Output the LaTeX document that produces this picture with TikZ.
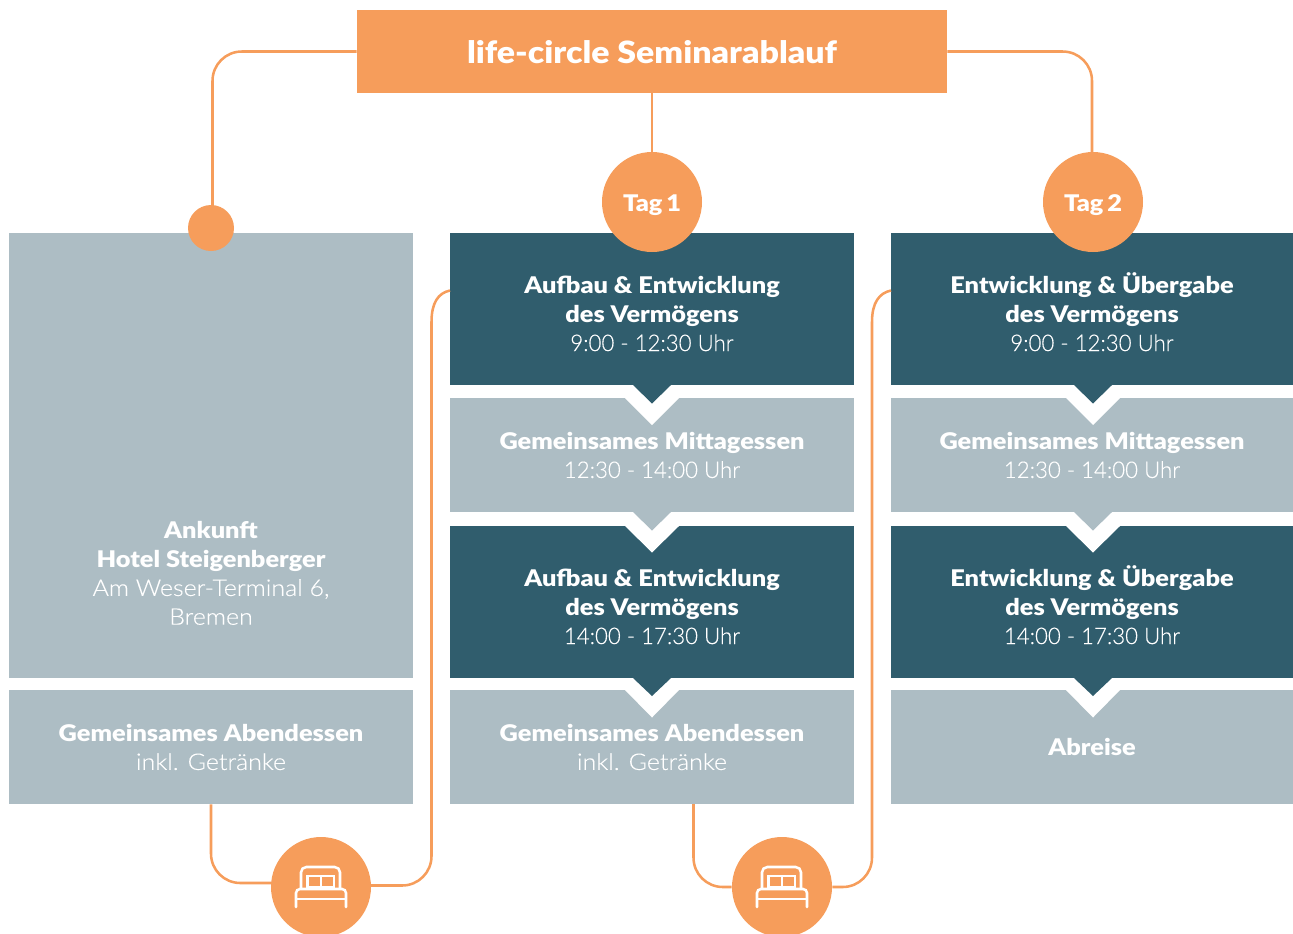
\documentclass[tikz,border=0pt]{standalone}
\usepackage{fontspec}
\setmainfont{Lato}[BoldFont={Lato Black},BoldFeatures={FakeStretch=1.105}]
\newfontfamily\thinfont{Lato Light}[FakeStretch=1.09,FakeBold=0.2]
\newfontfamily\timefont{Lato Light}[FakeStretch=0.97,FakeBold=0.2]
\newcommand{\toprule}{\rule{0pt}{20pt}}
\definecolor{orangefill}{HTML}{F69D5B}
\definecolor{darkfill}{HTML}{305D6D}
\definecolor{lightfill}{HTML}{ADBDC4}
\tikzset{
	darkbox/.style={fill=darkfill, minimum width=303pt, minimum height=114pt, inner sep=0pt, text=white, align=center, font=\fontsize{17.2}{21.6}\selectfont},
	lightbox/.style={fill=lightfill, minimum width=303pt, minimum height=85.5pt, inner sep=0pt, text=white, align=center, font=\fontsize{17.2}{21.6}\selectfont},
	headbox/.style={fill=orangefill, minimum width=442.5pt, minimum height=62.25pt, inner sep=0pt, text=white, text height=18.5pt, text depth=0pt, font=\fontsize{23}{28}\selectfont\bfseries},
	daycircle/.style={circle, fill=orangefill, minimum size=75pt, inner sep=0pt, text=white, text height=15.5pt, text depth=2pt, font=\fontsize{17.2}{21.6}\selectfont\bfseries},
	smalldot/.style={circle, fill=orangefill, minimum size=34.5pt, inner sep=0pt},
	linkline/.style={draw=orangefill, line width=1.9pt, rounded corners=22pt},
	bowline/.style={draw=orangefill, line width=1.9pt},
	bedicon/.pic={
		\draw[white, line width=1.9pt, line cap=round, rounded corners=4pt] (-20,1) -- (-20,-20) -- (19,-20) -- (19,1);
		\draw[white, line width=1.9pt, line cap=round, rounded corners=3pt] (-25,20) -- (-25,2) -- (25,2) -- (25,20);
		\draw[white, line width=1.9pt] (-25,12) -- (25,12);
		\draw[white, line width=1.7pt] (-13.5,-11) rectangle (0,0);
		\draw[white, line width=1.7pt] (0,-11) rectangle (13,0);
	}
}

\begin{document}
\begin{tikzpicture}[x=0.75pt, y=-0.75pt]

	\useasboundingbox (0,0) rectangle (1293,933);
	\clip (0,0) rectangle (1293,933);

	\node[headbox] (head) at (652,51.5) {life-circle Seminarablauf};

	% linke Spalte
	\node[lightbox, minimum height=333.75pt] (ankunft) at (211,455.5) {};
	\node[text=white, align=center, font=\fontsize{17.2}{21.6}\selectfont] (ankunfttext) at (211,573) {\textbf{Ankunft}\\\textbf{Hotel Steigenberger}\\{\thinfont Am Weser-Terminal 6,}\\{\thinfont Bremen}};
	\node[lightbox] (abendlinks) at (211,747) {\textbf{Gemeinsames Abendessen}\\{\thinfont inkl. Getr\"anke}};

	% Tag 1
	\node[darkbox] (aufbauvor) at (652,309) {\toprule\textbf{Aufbau \& Entwicklung}\\\textbf{des Verm\"ogens}\\{\timefont 9:00 - 12:30 Uhr}};
	\node[lightbox] (mittagvor) at (652,455) {\textbf{Gemeinsames Mittagessen}\\{\timefont 12:30 - 14:00 Uhr}};
	\node[darkbox] (aufbaunach) at (652,602) {\toprule\textbf{Aufbau \& Entwicklung}\\\textbf{des Verm\"ogens}\\{\timefont 14:00 - 17:30 Uhr}};
	\node[lightbox] (abendmitte) at (652,747) {\textbf{Gemeinsames Abendessen}\\{\thinfont inkl. Getr\"anke}};

	% Tag 2
	\node[darkbox, minimum width=301.5pt] (uebergabevor) at (1092,309) {\toprule\textbf{Entwicklung \& \"Ubergabe}\\\textbf{des Verm\"ogens}\\{\timefont 9:00 - 12:30 Uhr}};
	\node[lightbox, minimum width=301.5pt] (mittagzwei) at (1092,455) {\textbf{Gemeinsames Mittagessen}\\{\timefont 12:30 - 14:00 Uhr}};
	\node[darkbox, minimum width=301.5pt] (uebergabenach) at (1092,602) {\toprule\textbf{Entwicklung \& \"Ubergabe}\\\textbf{des Verm\"ogens}\\{\timefont 14:00 - 17:30 Uhr}};
	\node[lightbox, minimum width=301.5pt] (abreise) at (1092,747) {\textbf{Abreise}};

	% Pfeile zwischen den Kaesten
	\foreach \cx in {652,1093} {
		\fill[white] (\cx-27,398) -- (\cx+27,398) -- (\cx,425) -- cycle;
		\fill[darkfill] (\cx-19,385) -- (\cx+19,385) -- (\cx,403.5) -- cycle;
		\fill[white] (\cx-27,526) -- (\cx+27,526) -- (\cx,552.5) -- cycle;
		\fill[lightfill] (\cx-19,512) -- (\cx+19,512) -- (\cx,530.5) -- cycle;
		\fill[white] (\cx-27,690) -- (\cx+27,690) -- (\cx,717.5) -- cycle;
		\fill[darkfill] (\cx-19,678) -- (\cx+19,678) -- (\cx,696) -- cycle;
	}

	\node[smalldot] (dot) at (211,228) {};
	\node[daycircle] (tagone) at (652,202) {Tag\,1};
	\node[daycircle] (tagtwo) at (1093,202) {Tag\,2};
	\node[daycircle] (bedone) at (321,887) {};
	\node[daycircle] (bedtwo) at (782,887) {};
	\pic at (bedone) {bedicon};
	\pic at (bedtwo) {bedicon};

	\coordinate (dotein) at (212.5,206);
	\coordinate (tagtwoein) at (1092,152);
	\coordinate (abendaus) at (693.5,804);
	\coordinate (bedonein) at (272,883);
	\coordinate (bedoneout) at (370,885.5);
	\coordinate (bogenone) at (431.5,322);
	\coordinate (bogentwo) at (872,322);
	\coordinate (einone) at (450,290.5);
	\coordinate (eintwo) at (891,290.5);

	\draw[linkline] (head.west) -| (dotein);
	\draw[linkline] (head.east) -| (tagtwoein);
	\draw[linkline] (head.south) -- (tagone.north);
	\draw[linkline] (abendlinks.south) |- (bedonein);
	\draw[linkline] (abendaus) |- (bedtwo.west);
	\draw[linkline] (bedoneout) -| (bogenone);
	\draw[linkline] (bedtwo.east) -| (bogentwo);
	\draw[bowline] (bogenone) .. controls (431.5,303) and (438,293) .. (einone);
	\draw[bowline] (bogentwo) .. controls (872,303) and (879,293) .. (eintwo);

\end{tikzpicture}
\end{document}
